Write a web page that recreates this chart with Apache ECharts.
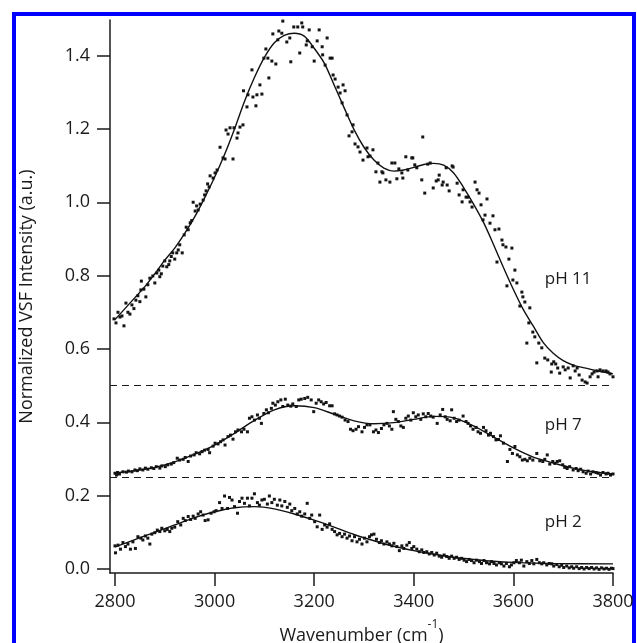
<!DOCTYPE html>
<html>
<head>
<meta charset="utf-8">
<script src="https://cdn.jsdelivr.net/npm/echarts@6/dist/echarts.min.js"></script>
<style>
  html, body { margin: 0; background: #fff; }
  #chart { width: 637px; height: 643px; }
</style>
</head>
<body>
<div id="chart"></div>
<script>
// tick positions
const xTicks = [2800, 3000, 3200, 3400, 3600, 3800];
const yTicks = [0, 0.2, 0.4, 0.6, 0.8, 1.0, 1.2, 1.4];
// dashed offsets between the spectra
const baselines = [0.5, 0.25];

// measured points [wavenumber, intensity]
const points11 = [
  [2798,0.682],[2802,0.671],[2806,0.70],[2810,0.687],[2814,0.69],[2818,0.663],[2822,0.725],[2826,0.70],[2830,0.695],[2834,0.72],
  [2838,0.71],[2842,0.733],[2846,0.745],[2850,0.729],[2852,0.761],[2853,0.785],[2858,0.763],[2862,0.742],[2866,0.775],[2870,0.793],
  [2876,0.799],[2880,0.78],[2884,0.807],[2888,0.815],[2890,0.797],[2893,0.805],[2896,0.826],[2900,0.84],[2904,0.824],[2908,0.83],
  [2910,0.84],[2913,0.852],[2916,0.862],[2920,0.845],[2924,0.862],[2927,0.87],[2930,0.884],[2935,0.862],[2939,0.911],[2943,0.932],
  [2947,0.925],[2951,0.944],[2954,0.95],[2957,1.0],[2961,0.976],[2964,0.99],[2967,0.979],[2971,0.995],[2977,1.006],[2980,1.02],
  [2983,1.031],[2986,1.05],[2989,1.042],[2991,1.072],[2997,1.066],[3001,1.08],[3005,1.088],[3011,1.15],[3017,1.121],[3021,1.118],
  [3023,1.197],[3027,1.186],[3031,1.203],[3037,1.118],[3039,1.203],[3045,1.175],[3047,1.189],[3051,1.205],[3057,1.211],[3058,1.304],
  [3065,1.26],[3067,1.293],[3075,1.361],[3077,1.287],[3083,1.263],[3085,1.293],[3091,1.32],[3095,1.295],[3099,1.393],[3103,1.418],
  [3107,1.393],[3109,1.339],[3115,1.385],[3117,1.459],[3123,1.377],[3127,1.443],[3129,1.467],[3135,1.461],[3137,1.494],[3145,1.437],
  [3151,1.448],[3153,1.383],[3159,1.478],[3167,1.478],[3171,1.407],[3175,1.489],[3177,1.478],[3184,1.429],[3186,1.44],[3190,1.47],
  [3196,1.424],[3200,1.385],[3206,1.44],[3210,1.47],[3216,1.424],[3217,1.402],[3222,1.374],[3226,1.448],[3232,1.393],[3236,1.393],
  [3238,1.347],[3242,1.336],[3248,1.314],[3252,1.298],[3256,1.271],[3258,1.32],[3262,1.304],[3266,1.238],[3270,1.181],[3276,1.192],
  [3278,1.211],[3282,1.159],[3288,1.151],[3292,1.137],[3298,1.115],[3306,1.148],[3308,1.124],[3312,1.126],[3318,1.143],[3324,1.083],
  [3328,1.107],[3332,1.055],[3336,1.083],[3338,1.08],[3344,1.061],[3352,1.055],[3356,1.107],[3362,1.107],[3366,1.064],[3370,1.091],
  [3376,1.08],[3378,1.066],[3384,1.124],[3388,1.088],[3396,1.121],[3398,1.121],[3402,1.102],[3406,1.094],[3416,1.061],[3418,1.178],
  [3422,1.025],[3428,1.104],[3433,1.107],[3439,1.039],[3445,1.058],[3449,1.061],[3451,1.074],[3457,1.047],[3459,1.055],[3465,1.094],
  [3467,1.047],[3471,1.031],[3477,1.099],[3479,1.096],[3487,1.052],[3491,1.02],[3497,1.001],[3499,1.034],[3505,1.014],[3509,1.014],
  [3513,1.001],[3517,0.987],[3523,1.055],[3527,1.034],[3531,1.025],[3535,0.993],[3539,0.952],[3543,0.965],[3547,1.009],[3553,0.943],
  [3559,0.963],[3563,0.925],[3567,0.837],[3571,0.927],[3577,0.897],[3579,0.884],[3585,0.878],[3587,0.772],[3591,0.845],[3597,0.875],
  [3599,0.788],[3603,0.815],[3607,0.78],[3613,0.717],[3617,0.755],[3619,0.742],[3623,0.728],[3627,0.616],[3631,0.671],[3633,0.712],
  [3639,0.646],[3643,0.633],[3647,0.562],[3651,0.616],[3657,0.603],[3663,0.575],[3669,0.57],[3676,0.537],[3677,0.559],[3681,0.565],
  [3685,0.559],[3689,0.548],[3693,0.534],[3700,0.551],[3704,0.543],[3710,0.548],[3714,0.521],[3720,0.554],[3724,0.54],[3728,0.548],
  [3732,0.529],[3738,0.515],[3744,0.51],[3748,0.507],[3754,0.524],[3758,0.532],[3762,0.537],[3768,0.54],[3770,0.524],[3774,0.543],
  [3780,0.54],[3786,0.54],[3790,0.537],[3794,0.532],[3800,0.524]
];

const points7 = [
  [2800,0.261],[2803,0.256],[2805,0.263],[2809,0.259],[2816,0.265],[2823,0.264],[2827,0.267],[2834,0.265],[2840,0.270],[2845,0.268],
  [2850,0.273],[2856,0.270],[2861,0.275],[2866,0.272],[2873,0.276],[2878,0.274],[2883,0.279],[2890,0.275],[2894,0.281],[2901,0.279],
  [2906,0.284],[2913,0.286],[2918,0.290],[2925,0.302],[2930,0.297],[2937,0.299],[2941,0.304],[2947,0.293],[2952,0.308],[2959,0.311],
  [2963,0.317],[2970,0.314],[2975,0.320],[2980,0.324],[2987,0.326],[2990,0.317],[2997,0.335],[3001,0.343],[3007,0.341],[3012,0.347],
  [3017,0.352],[3021,0.338],[3027,0.361],[3032,0.365],[3037,0.354],[3042,0.374],[3047,0.379],[3054,0.374],[3059,0.381],[3066,0.374],
  [3070,0.411],[3075,0.415],[3080,0.406],[3086,0.420],[3090,0.411],[3094,0.397],[3099,0.424],[3104,0.434],[3108,0.426],[3114,0.438],
  [3117,0.452],[3122,0.447],[3127,0.456],[3133,0.461],[3137,0.443],[3142,0.463],[3147,0.447],[3153,0.444],[3157,0.450],[3164,0.443],
  [3169,0.461],[3174,0.463],[3181,0.465],[3187,0.468],[3194,0.461],[3199,0.429],[3204,0.452],[3209,0.461],[3214,0.456],[3219,0.450],
  [3224,0.454],[3231,0.445],[3236,0.445],[3241,0.423],[3246,0.420],[3251,0.417],[3256,0.414],[3262,0.406],[3268,0.402],[3273,0.381],
  [3278,0.377],[3284,0.381],[3289,0.388],[3296,0.374],[3301,0.386],[3306,0.393],[3312,0.393],[3319,0.374],[3324,0.379],[3329,0.372],
  [3335,0.383],[3340,0.393],[3346,0.397],[3351,0.390],[3356,0.381],[3359,0.429],[3364,0.408],[3369,0.402],[3374,0.390],[3379,0.386],
  [3384,0.411],[3389,0.417],[3394,0.406],[3399,0.426],[3404,0.415],[3409,0.420],[3414,0.408],[3419,0.423],[3424,0.415],[3429,0.424],
  [3434,0.417],[3439,0.414],[3447,0.397],[3453,0.420],[3458,0.435],[3463,0.415],[3467,0.408],[3473,0.404],[3476,0.434],[3481,0.411],
  [3486,0.402],[3491,0.406],[3499,0.417],[3505,0.402],[3509,0.397],[3514,0.390],[3519,0.381],[3525,0.386],[3529,0.374],[3534,0.370],
  [3540,0.386],[3545,0.377],[3550,0.365],[3554,0.370],[3560,0.361],[3565,0.352],[3570,0.353],[3574,0.363],[3580,0.343],[3588,0.293],
  [3593,0.326],[3598,0.315],[3603,0.334],[3608,0.311],[3613,0.306],[3618,0.297],[3623,0.299],[3628,0.295],[3633,0.302],[3639,0.297],
  [3647,0.315],[3653,0.295],[3659,0.293],[3663,0.299],[3668,0.311],[3673,0.286],[3679,0.293],[3683,0.288],[3688,0.293],[3693,0.295],
  [3699,0.284],[3703,0.277],[3708,0.274],[3713,0.279],[3720,0.270],[3726,0.274],[3730,0.268],[3735,0.272],[3740,0.265],[3746,0.261],
  [3750,0.267],[3755,0.259],[3760,0.265],[3766,0.263],[3770,0.261],[3775,0.256],[3780,0.263],[3786,0.259],[3790,0.261],[3795,0.256],
  [3800,0.259]
];

const points2 = [
  [2800,0.063],[2801,0.044],[2806,0.065],[2811,0.054],[2816,0.072],[2821,0.061],[2826,0.068],[2831,0.054],[2836,0.074],[2841,0.056],
  [2846,0.088],[2852,0.084],[2856,0.079],[2861,0.090],[2866,0.084],[2870,0.068],[2874,0.095],[2880,0.099],[2885,0.106],[2890,0.102],
  [2894,0.111],[2900,0.104],[2905,0.108],[2910,0.102],[2914,0.111],[2920,0.114],[2926,0.129],[2932,0.120],[2937,0.138],[2941,0.132],
  [2947,0.143],[2952,0.135],[2957,0.144],[2961,0.138],[2967,0.150],[2972,0.156],[2977,0.147],[2981,0.132],[2987,0.134],[2993,0.152],
  [2999,0.156],[3003,0.159],[3010,0.181],[3015,0.165],[3020,0.199],[3026,0.165],[3030,0.195],[3035,0.188],[3040,0.170],[3046,0.152],
  [3050,0.184],[3055,0.193],[3060,0.179],[3066,0.193],[3070,0.172],[3075,0.193],[3080,0.205],[3086,0.181],[3090,0.174],[3095,0.188],
  [3100,0.190],[3106,0.177],[3110,0.199],[3115,0.181],[3120,0.190],[3126,0.174],[3131,0.188],[3135,0.172],[3141,0.184],[3146,0.168],
  [3151,0.177],[3155,0.159],[3161,0.165],[3166,0.150],[3171,0.156],[3175,0.144],[3181,0.150],[3186,0.179],[3191,0.138],[3195,0.147],
  [3201,0.129],[3206,0.115],[3211,0.147],[3216,0.108],[3221,0.120],[3226,0.114],[3231,0.123],[3236,0.108],[3241,0.102],[3246,0.093],
  [3251,0.097],[3256,0.088],[3261,0.095],[3266,0.084],[3271,0.090],[3276,0.077],[3281,0.088],[3286,0.074],[3291,0.081],[3296,0.068],
  [3301,0.084],[3306,0.074],[3311,0.088],[3315,0.093],[3320,0.095],[3325,0.081],[3331,0.072],[3335,0.077],[3340,0.068],[3346,0.074],
  [3351,0.068],[3356,0.063],[3360,0.070],[3366,0.061],[3371,0.050],[3376,0.063],[3380,0.056],[3386,0.065],[3391,0.072],[3396,0.056],
  [3400,0.061],[3406,0.054],[3411,0.047],[3416,0.052],[3420,0.045],[3426,0.047],[3431,0.041],[3436,0.045],[3441,0.038],[3446,0.043],
  [3451,0.035],[3456,0.032],[3461,0.038],[3466,0.034],[3471,0.029],[3476,0.035],[3481,0.029],[3486,0.032],[3491,0.026],[3496,0.029],
  [3501,0.024],[3506,0.020],[3511,0.026],[3516,0.023],[3521,0.017],[3526,0.024],[3532,0.020],[3536,0.015],[3541,0.023],[3546,0.017],
  [3552,0.014],[3556,0.020],[3561,0.015],[3566,0.011],[3572,0.017],[3576,0.014],[3581,0.008],[3586,0.015],[3592,0.006],[3596,0.011],
  [3601,0.017],[3606,0.023],[3612,0.017],[3616,0.024],[3621,0.008],[3627,0.020],[3632,0.015],[3637,0.023],[3641,0.014],[3647,0.026],
  [3652,0.017],[3657,0.014],[3661,0.017],[3667,0.011],[3672,0.015],[3677,0.014],[3681,0.008],[3687,0.012],[3692,0.006],[3697,0.010],
  [3701,0.004],[3707,0.008],[3712,0.003],[3717,0.006],[3721,0.002],[3727,0.006],[3732,0.001],[3737,0.004],[3742,0.000],[3747,0.004],
  [3752,0.001],[3757,0.004],[3762,0.000],[3767,0.003],[3772,-0.001],[3777,0.003],[3782,0.000],[3787,0.002],[3792,-0.001],[3797,0.002],
  [3800,0.001]
];

// fitted curves [wavenumber, intensity]
const fit11 = [
  [2800,0.68],[2820,0.71],[2840,0.74],[2860,0.77],[2880,0.805],[2900,0.842],[2920,0.875],[2940,0.915],[2960,0.96],[2980,1.012],
  [3000,1.068],[3020,1.13],[3040,1.20],[3060,1.275],[3080,1.34],[3100,1.395],[3120,1.435],[3140,1.455],[3160,1.461],[3180,1.453],
  [3200,1.42],[3220,1.38],[3240,1.32],[3260,1.258],[3280,1.198],[3300,1.15],[3320,1.115],[3340,1.093],[3360,1.085],[3380,1.088],
  [3400,1.095],[3420,1.103],[3440,1.106],[3460,1.101],[3480,1.08],[3500,1.04],[3520,0.995],[3540,0.945],[3560,0.885],[3580,0.822],
  [3600,0.762],[3620,0.707],[3640,0.662],[3660,0.617],[3680,0.588],[3700,0.568],[3720,0.556],[3740,0.549],[3760,0.543],[3780,0.537],
  [3800,0.532]
];
const fit7 = [
  [2800,0.262],[2840,0.268],[2880,0.277],[2920,0.292],[2960,0.313],[3000,0.338],[3040,0.370],[3080,0.405],[3120,0.434],[3160,0.445],
  [3200,0.440],[3240,0.422],[3280,0.404],[3320,0.396],[3360,0.399],[3400,0.408],[3440,0.416],[3480,0.412],[3520,0.390],[3560,0.360],
  [3600,0.330],[3640,0.305],[3680,0.289],[3720,0.275],[3760,0.265],[3800,0.259]
];
const fit2 = [
  [2800,0.060],[2840,0.080],[2880,0.100],[2920,0.120],[2960,0.140],[3000,0.156],[3040,0.167],[3080,0.170],[3120,0.164],[3160,0.150],
  [3200,0.133],[3240,0.114],[3280,0.094],[3320,0.077],[3360,0.062],[3400,0.050],[3440,0.040],[3480,0.032],[3520,0.026],[3560,0.021],
  [3600,0.018],[3680,0.015],[3800,0.014]
];

// curve labels, anchored in data coordinates
const phNames = ['pH 11', 'pH 7', 'pH 2'];
const phAnchors = [[3663, 0.79], [3663, 0.393], [3663, 0.128]];

const ink = '#1c1a1b';
const font = 'Open Sans';

const chart = echarts.init(document.getElementById('chart'));

const dots = (data) => ({
  type: 'scatter',
  data: data,
  symbol: 'rect',
  symbolSize: 3,
  silent: true,
  itemStyle: { color: '#141414', opacity: 1 },
  z: 3
});
const fit = (data) => ({
  type: 'line',
  data: data,
  smooth: 0.3,
  showSymbol: false,
  silent: true,
  lineStyle: { color: '#111', width: 1.4 },
  z: 4
});

const option = {
  animation: false,
  backgroundColor: '#fff',
  grid: { left: 110, right: 24, top: 20, bottom: 70, containLabel: false, outerBoundsMode: 'none' },
  graphic: [{
    type: 'rect',
    shape: { x: 14, y: 14, width: 620, height: 640 },
    style: { fill: 'none', stroke: '#0000ff', lineWidth: 4 },
    silent: true
  }],
  xAxis: {
    type: 'value',
    min: 2790,
    max: 3800,
    name: '{a|Wavenumber (cm}{s|-1}{a|)}',
    nameLocation: 'middle',
    nameGap: 46,
    nameTextStyle: {
      rich: {
        a: { fontFamily: font, fontSize: 18, color: ink, lineHeight: 26, verticalAlign: 'bottom' },
        s: { fontFamily: font, fontSize: 12, color: ink, lineHeight: 14, verticalAlign: 'top' }
      }
    },
    axisLine: { show: true, onZero: false, lineStyle: { color: ink, width: 1.5 } },
    axisTick: { show: true, length: 13, customValues: xTicks, lineStyle: { color: ink, width: 1.5 } },
    axisLabel: {
      customValues: xTicks,
      fontFamily: font, fontSize: 18, color: ink, margin: 20,
      formatter: (v) => String(v)
    },
    splitLine: { show: false }
  },
  yAxis: {
    type: 'value',
    min: -0.011,
    max: 1.497,
    name: 'Normalized VSF Intensity (a.u.)',
    nameLocation: 'middle',
    nameGap: 74,
    nameTextStyle: { fontFamily: font, fontSize: 18, color: ink },
    axisLine: { show: true, onZero: false, lineStyle: { color: ink, width: 1.5 } },
    axisTick: { show: true, length: 13, customValues: yTicks, lineStyle: { color: ink, width: 1.5 } },
    axisLabel: {
      customValues: yTicks,
      fontFamily: font, fontSize: 18, color: ink, margin: 20,
      formatter: (v) => v.toFixed(1)
    },
    splitLine: { show: false }
  },
  series: [
    dots(points11), fit(fit11),
    dots(points7), fit(fit7),
    dots(points2), fit(fit2),
    {
      type: 'line',
      data: [],
      silent: true,
      markLine: {
        symbol: 'none',
        silent: true,
        label: { show: false },
        lineStyle: { color: ink, type: [7, 5], width: 1.2 },
        data: baselines.map((v) => ({ yAxis: v }))
      }
    },
    {
      type: 'scatter',
      symbolSize: 0,
      silent: true,
      itemStyle: { opacity: 1 },
      data: phNames.map((n, i) => ({ name: n, value: phAnchors[i] })),
      label: {
        show: true,
        position: 'right',
        distance: 0,
        formatter: '{b}',
        fontFamily: font,
        fontSize: 17,
        color: ink
      }
    }
  ]
};

chart.setOption(option);
</script>
</body>
</html>
